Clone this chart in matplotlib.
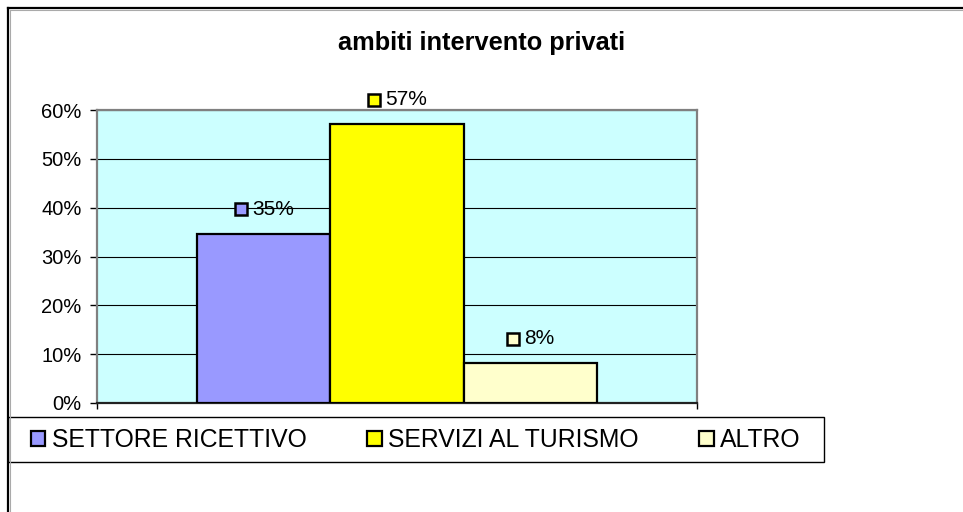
import matplotlib
matplotlib.use("Agg")
import matplotlib.pyplot as plt
from matplotlib.patches import Patch, Rectangle
from matplotlib.lines import Line2D
from matplotlib.ticker import PercentFormatter
from matplotlib.offsetbox import AnnotationBbox, HPacker, DrawingArea, TextArea

plt.rcParams['font.family'] = ['Liberation Sans', 'DejaVu Sans']

title = "ambiti intervento privati"
series = ["SETTORE RICETTIVO", "SERVIZI AL TURISMO", "ALTRO"]
values = [0.347, 0.571, 0.082]
colors = ["#9999FF", "#FFFF00", "#FFFFCC"]
yticks = [0.0, 0.1, 0.2, 0.3, 0.4, 0.5, 0.6]

W, H = 963, 512
fig = plt.figure(figsize=(W / 100, H / 100), dpi=100)
fig.patch.set_facecolor("white")

ax = fig.add_axes([97 / W, 1 - 403 / H, 600 / W, 293 / H])
ax.set_facecolor("#CCFFFF")

n = len(values)
bw = 1.0 / (n + 1.5)
offsets = [(i - (n - 1) / 2) * bw for i in range(n)]
bars = []
for off, v, c, s in zip(offsets, values, colors, series):
    b = ax.bar(off, v, width=bw, color=c, edgecolor="black", linewidth=1.6,
               label=s, zorder=3)
    bars.append(b[0])

ax.set_xlim(-0.5, 0.5)
ax.set_ylim(0, 0.6)
ax.set_yticks(yticks)
ax.yaxis.set_major_formatter(PercentFormatter(1, decimals=0))
ax.set_xticks([-0.5, 0.5])
ax.set_xticklabels(["", ""])
ax.grid(axis="y", color="black", linewidth=0.8, zorder=1)
ax.set_axisbelow(True)
ax.tick_params(axis="y", direction="out", length=5, width=1, pad=6,
               labelsize=14.5, colors="black")
ax.tick_params(axis="x", direction="out", length=4, width=1)
for side in ["left", "top", "right"]:
    ax.spines[side].set_color("#808080")
    ax.spines[side].set_linewidth(1.6)
ax.spines["bottom"].set_color("#222222")
ax.spines["bottom"].set_linewidth(1.6)

# data labels with legend keys
for b, v, c in zip(bars, values, colors):
    da = DrawingArea(10, 10, 0, 0)
    da.add_artist(Rectangle((0.6, 0.6), 8.8, 8.8, facecolor=c,
                            edgecolor="black", linewidth=1.8))
    ta = TextArea(f"{v:.0%}", textprops=dict(fontsize=15, color="black"))
    pack = HPacker(children=[da, ta], align="center", pad=0, sep=3)
    ab = AnnotationBbox(pack, (b.get_x() + b.get_width() / 2, b.get_height()),
                        xybox=(0, 17.5), xycoords="data",
                        boxcoords="offset points", box_alignment=(0.5, 0.5),
                        frameon=False, annotation_clip=False, zorder=5)
    ax.add_artist(ab)

# title
fig.text(481.5 / W, 1 - 43 / H, title, ha="center", va="center",
         fontsize=18.3, fontweight="bold")

# legend frame
fig.add_artist(Rectangle((7.5 / W, 1 - 462 / H), 816 / W, 45 / H,
                         transform=fig.transFigure, facecolor="white",
                         edgecolor="black", linewidth=1.0, zorder=2))
handles = [Patch(facecolor=c, edgecolor="black", linewidth=1.6, label=s)
           for c, s in zip(colors, series)]
leg = fig.legend(handles=handles, ncol=3, loc="center left",
                 bbox_to_anchor=(31 / W, 1 - 440 / H),
                 fontsize=17.8, frameon=False,
                 handlelength=0.58, handleheight=0.58, handletextpad=0.27,
                 borderaxespad=0, borderpad=0, columnspacing=2.45)
leg.set_zorder(3)

# outer chart border (extends beyond the image at right and bottom)
fig.add_artist(Line2D([7.5 / W, 7.5 / W], [0, 1 - 8 / H], color="black",
                      linewidth=1.6, transform=fig.transFigure))
fig.add_artist(Line2D([7.5 / W, 1], [1 - 8 / H, 1 - 8 / H], color="black",
                      linewidth=1.6, transform=fig.transFigure))
fig.add_artist(Line2D([9.5 / W, 9.5 / W], [0, 1 - 10 / H], color="#AAAAAA",
                      linewidth=0.8, transform=fig.transFigure))
fig.add_artist(Line2D([9.5 / W, 1], [1 - 10 / H, 1 - 10 / H], color="#AAAAAA",
                      linewidth=0.8, transform=fig.transFigure))

fig.savefig("out.png", dpi=100, facecolor="white")
